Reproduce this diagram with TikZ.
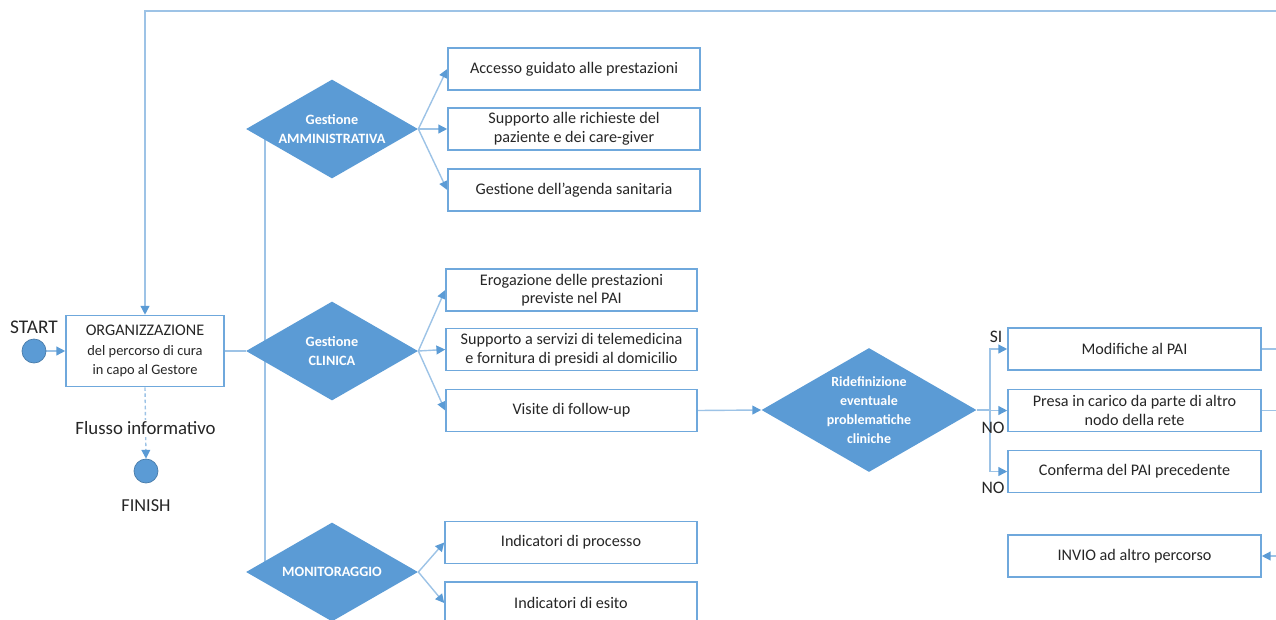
\documentclass[tikz,border=0pt]{standalone}
\usepackage{fontspec}
\setmainfont{Carlito}
\usetikzlibrary{shapes.geometric,arrows.meta,backgrounds}
\definecolor{diablue}{HTML}{5B9BD5}
\definecolor{boxblue}{HTML}{6FA8DC}
\definecolor{linblue}{HTML}{9DC3E6}
\definecolor{txtgray}{HTML}{262626}
\begin{document}
\begin{tikzpicture}[
    box/.style={draw=boxblue,line width=0.9pt,fill=white,rectangle,minimum width=5.04cm,minimum height=0.84cm,inner sep=1pt,align=center,font=\fontsize{9.2}{10.6}\selectfont,text=txtgray},
    dia/.style={diamond,fill=diablue,aspect=1.74,inner sep=-3pt,minimum width=3.44cm,minimum height=1.98cm,align=center,text=white,font=\fontsize{8.1}{11.3}\selectfont\bfseries},
    dot/.style={circle,draw=diablue!80!black,fill=diablue,minimum size=0.48cm,inner sep=0pt},
    lbl/.style={font=\fontsize{10}{11}\selectfont,text=txtgray,inner sep=1pt},
    line/.style={draw=linblue,line width=0.8pt},
    arr/.style={line,-{Triangle[length=5pt,width=5pt,color=diablue]}}
  ]
  \useasboundingbox (0,0) rectangle (25.52,-12.38);
  %% Start / organisation / finish
  \node[dot] (start) at (0.68,-7.02) {};
  \node[lbl,font=\fontsize{11}{12}\selectfont] (startlbl) at (0.68,-6.54) {START};
  \node[box,minimum width=3.16cm,minimum height=1.42cm,font=\fontsize{8.2}{11.3}\selectfont] (org) at (2.9,-7.02)
    {{\fontsize{9.2}{11}\selectfont ORGANIZZAZIONE}\\del percorso di cura\\in capo al Gestore};
  \node[dot] (fin) at (2.92,-9.42) {};
  \node[lbl,font=\fontsize{10.4}{12}\selectfont] (finlbl) at (2.92,-10.12) {FINISH};
  %% Decisions
  \node[dia] (amm) at (6.64,-2.58) {Gestione\\AMMINISTRATIVA};
  \node[dia] (cli) at (6.64,-7.02) {Gestione\\CLINICA};
  \node[dia] (mon) at (6.64,-11.44) {MONITORAGGIO};
  \node[dia,minimum width=4.3cm,minimum height=2.48cm,font=\fontsize{7.95}{10.8}\selectfont\bfseries] (rid) at (17.38,-8.2)
    {Ridefinizione\\eventuale\\problematiche\\cliniche};
  %% Gestione amministrativa
  \node[box] (a1) at (11.48,-1.38) {Accesso guidato alle prestazioni};
  \node[box] (a2) at (11.48,-2.58) {Supporto alle richieste del\\paziente e dei care-giver};
  \node[box] (a3) at (11.48,-3.8) {Gestione dell'agenda sanitaria};
  %% Gestione clinica
  \node[box,minimum width=5.02cm] (c1) at (11.43,-5.8) {Erogazione delle prestazioni\\previste nel PAI};
  \node[box,minimum width=5.02cm] (c2) at (11.43,-6.99) {Supporto a servizi di telemedicina\\e fornitura di presidi al domicilio};
  \node[box,minimum width=5.02cm] (c3) at (11.43,-8.21) {Visite di follow-up};
  %% Monitoraggio
  \node[box] (m1) at (11.42,-10.85) {Indicatori di processo};
  \node[box] (m2) at (11.42,-12.06) {Indicatori di esito};
  %% Esiti
  \node[box,minimum width=5.06cm] (r1) at (22.69,-6.98) {Modifiche al PAI};
  \node[box,minimum width=5.06cm] (r2) at (22.69,-8.21) {Presa in carico da parte di altro\\nodo della rete};
  \node[box,minimum width=5.06cm] (r3) at (22.69,-9.43) {Conferma del PAI precedente};
  \node[box,minimum width=5.06cm] (r4) at (22.69,-11.12) {INVIO ad altro percorso};
  \node[lbl] (si) at (19.92,-6.74) {SI};
  \node[lbl] (no1) at (19.86,-8.56) {NO};
  \node[lbl] (no2) at (19.86,-9.76) {NO};
  %% Free ends at the right border
  \coordinate (ret) at (25.52,-0.22);
  \coordinate (out1) at (25.52,-6.98);
  \coordinate (out2) at (25.52,-8.21);
  \coordinate (in4) at (25.52,-11.12);
  \begin{scope}[on background layer]
    \draw[arr] (start) -- (org.west);
    \draw[arr] (ret) -| (org.north);
    \draw[arr,dash pattern=on 2pt off 1.5pt] (org.south) -- (fin.north)
      node[pos=0.575,lbl,fill=white,font=\fontsize{10.7}{12}\selectfont] (flusso) {Flusso informativo};
    \draw[line] (org.east) -- (cli.west);
    \draw[line] (amm.center) ++(-1.34,0) coordinate (vtop) -- (vtop |- mon.center);
    \foreach \b in {a1,a2,a3} \draw[arr] (amm.east) -- (\b.west);
    \foreach \b in {c1,c2,c3} \draw[arr] (cli.east) -- (\b.west);
    \foreach \b in {m1,m2} \draw[arr] (mon.east) -- (\b.west);
    \draw[arr] (c3.east) -- (rid.west);
    \draw[line] (rid.east) -- ++(0.26,0) coordinate (split);
    \foreach \b in {r1,r2,r3} \draw[arr] (split) |- (\b.west);
    \draw[line] (r1.east) -- (out1);
    \draw[line] (r2.east) -- (out2);
    \draw[arr] (in4) -- (r4.east);
  \end{scope}
\end{tikzpicture}
\end{document}
